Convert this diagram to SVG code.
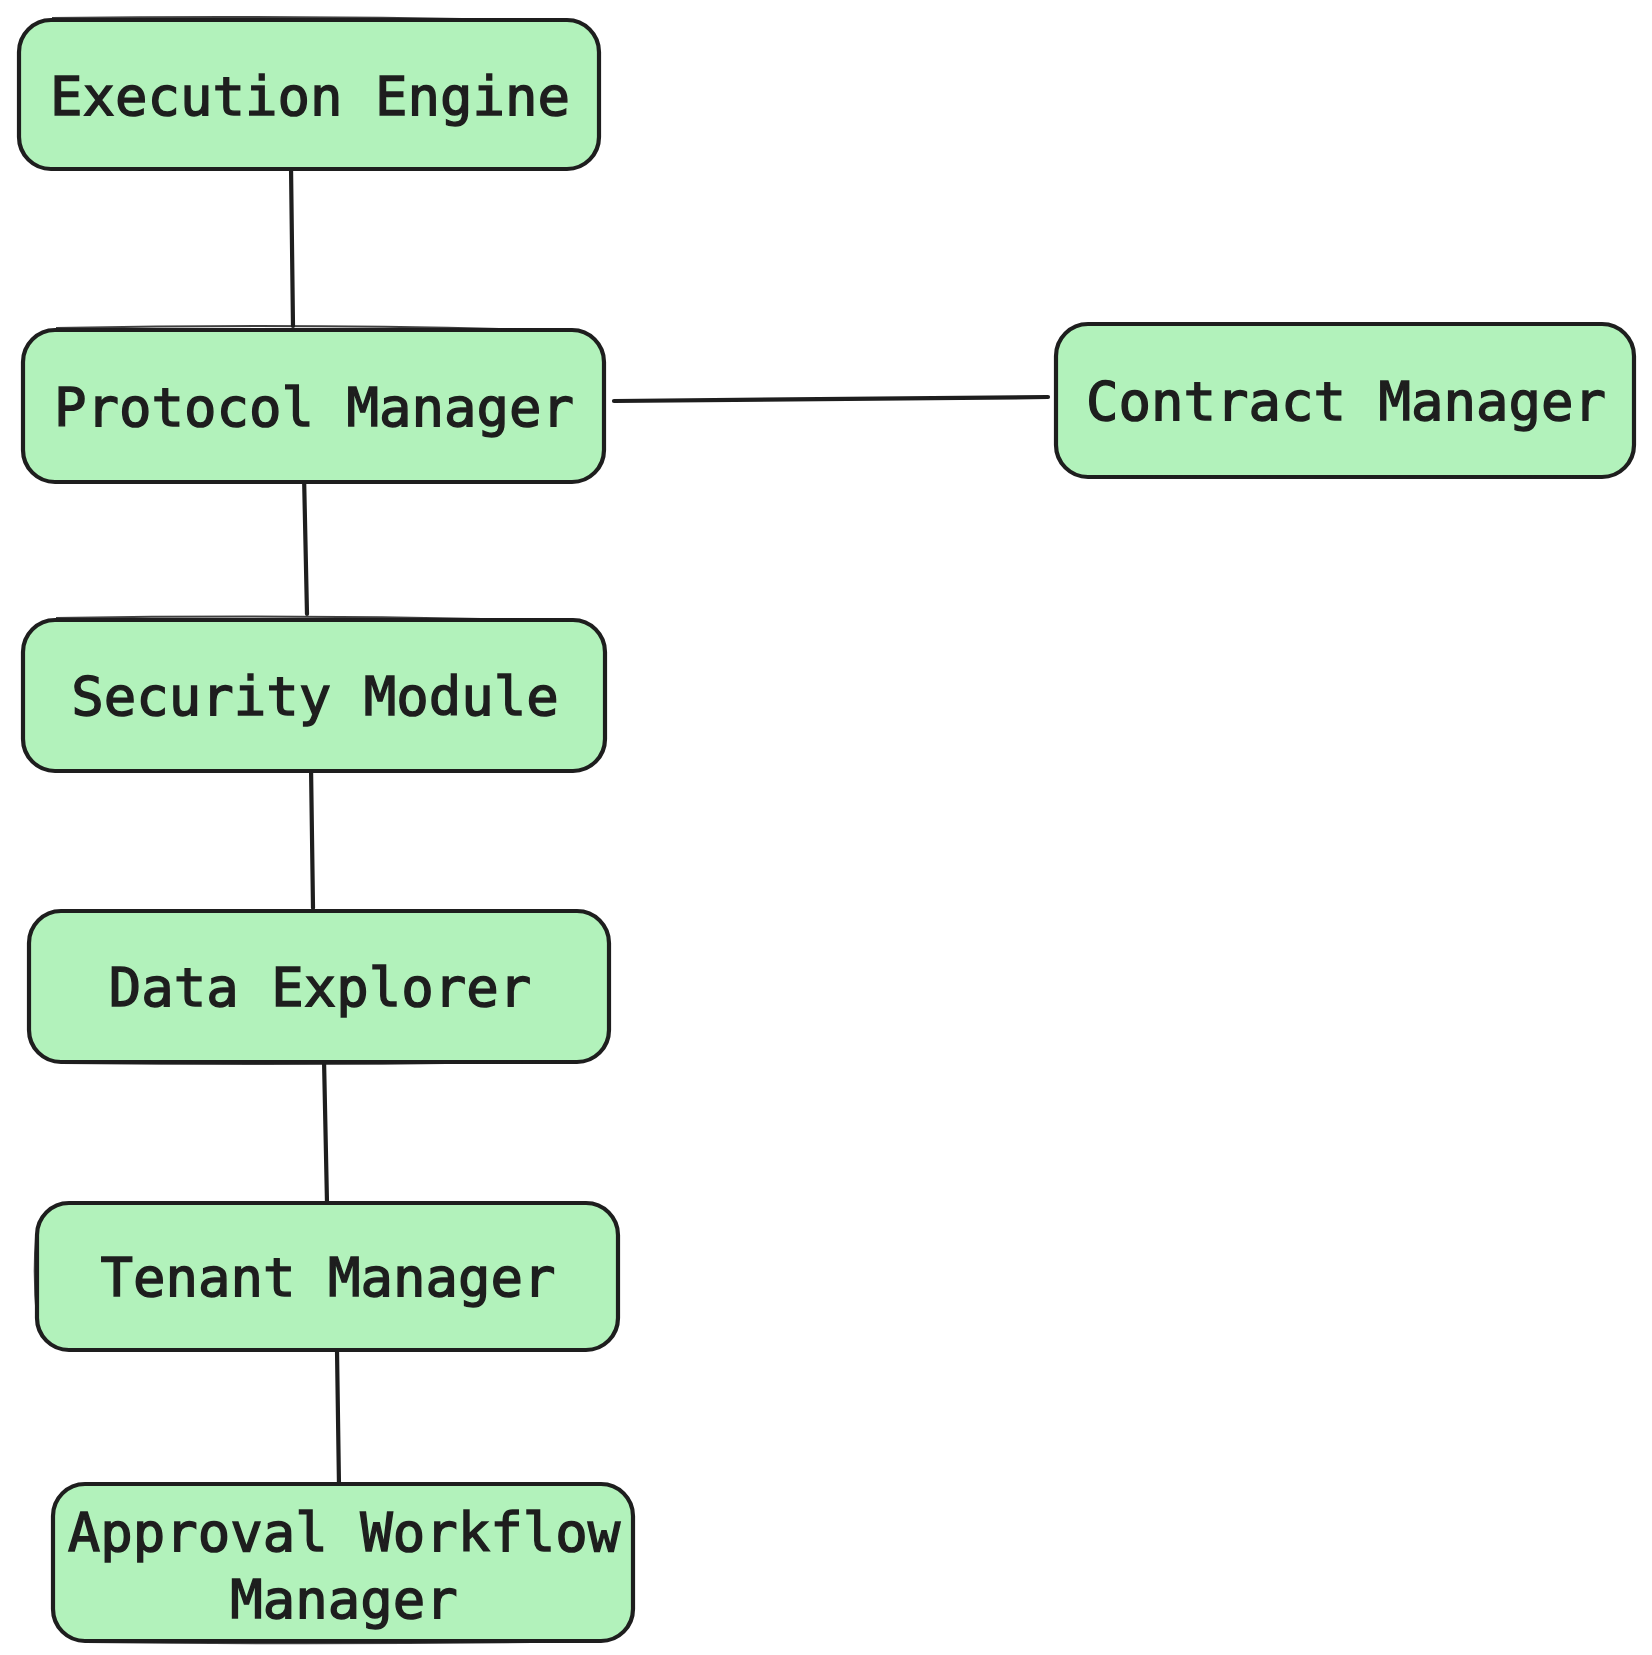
<svg xmlns="http://www.w3.org/2000/svg" width="1652" height="1655" viewBox="0 0 1652 1655">
<style>
.box{fill:#b2f2bb;stroke:#1e1e1e;stroke-width:4.2;stroke-linejoin:round}
.sk{fill:none;stroke:#1e1e1e;stroke-width:2;opacity:0.85}
.lbl{font-family:"DejaVu Sans Mono","Liberation Mono",monospace;font-size:54px;fill:#1e1e1e;text-anchor:middle;stroke:#1e1e1e;stroke-width:1.4}
.edge{fill:none;stroke:#1e1e1e;stroke-width:4.2;stroke-linecap:round}
</style>
<rect width="1652" height="1655" fill="#ffffff"/>
<g id="connectors">
<path class="edge" d="M291 166 L293 326"/>
<path class="edge" d="M304 474 L307 614"/>
<path class="edge" d="M311 766 L313 908"/>
<path class="edge" d="M324 1059 L327 1203"/>
<path class="edge" d="M337 1350 L339 1486"/>
<path class="edge" d="M614 401 L1048 397"/>
</g>
<g id="execution-engine">
<rect class="box" x="19" y="20" width="580" height="149" rx="32"/>
<path class="sk" d="M52 18 Q310 15 570 21"/>
<text class="lbl" x="310" y="115">Execution Engine</text>
</g>
<g id="protocol-manager">
<rect class="box" x="23" y="330" width="581" height="152" rx="32"/>
<path class="sk" d="M56 328 Q320 323 575 331"/>
<text class="lbl" x="314" y="426">Protocol Manager</text>
</g>
<g id="contract-manager">
<rect class="box" x="1056" y="324" width="578" height="153" rx="32"/>
<path class="sk" d="M1088 476 Q1350 479 1606 476"/>
<text class="lbl" x="1346" y="420">Contract Manager</text>
</g>
<g id="security-module">
<rect class="box" x="23" y="620" width="582" height="151" rx="32"/>
<path class="sk" d="M56 618 Q320 614 576 621"/>
<text class="lbl" x="315" y="715">Security Module</text>
</g>
<g id="data-explorer">
<rect class="box" x="29" y="911" width="580" height="151" rx="32"/>
<path class="sk" d="M62 1063 Q320 1066 580 1061"/>
<text class="lbl" x="320" y="1006">Data Explorer</text>
</g>
<g id="tenant-manager">
<rect class="box" x="37" y="1203" width="581" height="147" rx="32"/>
<path class="sk" d="M36 1236 Q33 1276 37 1320"/>
<text class="lbl" x="328" y="1296">Tenant Manager</text>
</g>
<g id="approval-workflow-manager">
<rect class="box" x="53" y="1484" width="580" height="157" rx="32"/>
<path class="sk" d="M86 1642 Q340 1645 604 1641"/>
<text class="lbl" x="344" y="1551">Approval Workflow</text>
<text class="lbl" x="344" y="1618">Manager</text>
</g>
</svg>
